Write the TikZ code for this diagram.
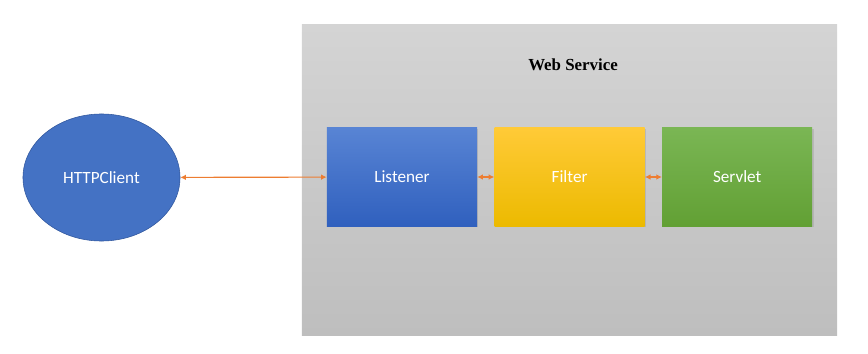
\documentclass[tikz,border=0pt]{standalone}
\usepackage{fontspec}
\setmainfont{Carlito}
\newfontfamily\titlefont{Liberation Serif}
\usetikzlibrary{positioning,arrows.meta,shadows,shapes.geometric}

\definecolor{wsgraytop}{RGB}{212,212,212}
\definecolor{wsgraybot}{RGB}{190,190,190}
\definecolor{clientblue}{RGB}{68,114,196}
\definecolor{clientedge}{RGB}{50,88,158}
\definecolor{bluetop}{RGB}{88,132,212}
\definecolor{bluebot}{RGB}{48,96,190}
\definecolor{yellowtop}{RGB}{255,202,55}
\definecolor{yellowbot}{RGB}{236,186,0}
\definecolor{greentop}{RGB}{122,182,84}
\definecolor{greenbot}{RGB}{98,160,52}
\definecolor{linkorange}{RGB}{237,125,49}

\tikzset{
  stage/.style={minimum width=3.75cm, minimum height=2.45cm, inner sep=0pt,
    text=white, font=\fontsize{12.2}{14}\selectfont,
    drop shadow={opacity=0.25, shadow xshift=1pt, shadow yshift=-1pt}},
  link/.style={draw=linkorange, line width=0.8pt, {Latex[length=4pt,width=4pt]}-{Latex[length=4pt,width=4pt]}}
}

\begin{document}
\begin{tikzpicture}[x=0.025cm,y=-0.025cm]
\useasboundingbox (0,0) rectangle (868,354);

% Web service container
\node[minimum width=13.375cm, minimum height=7.75cm, inner sep=0pt,
  top color=wsgraytop, bottom color=wsgraybot] (ws) at (569.5,180) {};
\node[font=\titlefont\bfseries\fontsize{12}{14}\selectfont] (title) at (573,65) {Web Service};

% Client
\node[draw=clientedge, fill=clientblue, ellipse, minimum width=3.925cm, minimum height=3.175cm,
  text=white, font=\fontsize{12.2}{14}\selectfont] (client) at (101.5,177.5) {HTTPClient};

% Chain inside the service
\node[stage, top color=bluetop, bottom color=bluebot] (listener) at (402,177) {Listener};
\node[stage, top color=yellowtop, bottom color=yellowbot, right=0.425cm of listener] (filter) {Filter};
\node[stage, top color=greentop, bottom color=greenbot, right=0.425cm of filter] (servlet) {Servlet};

% Links
\draw[link] (client) -- (listener);
\draw[link] (listener) -- (filter);
\draw[link] (filter) -- (servlet);
\end{tikzpicture}
\end{document}
